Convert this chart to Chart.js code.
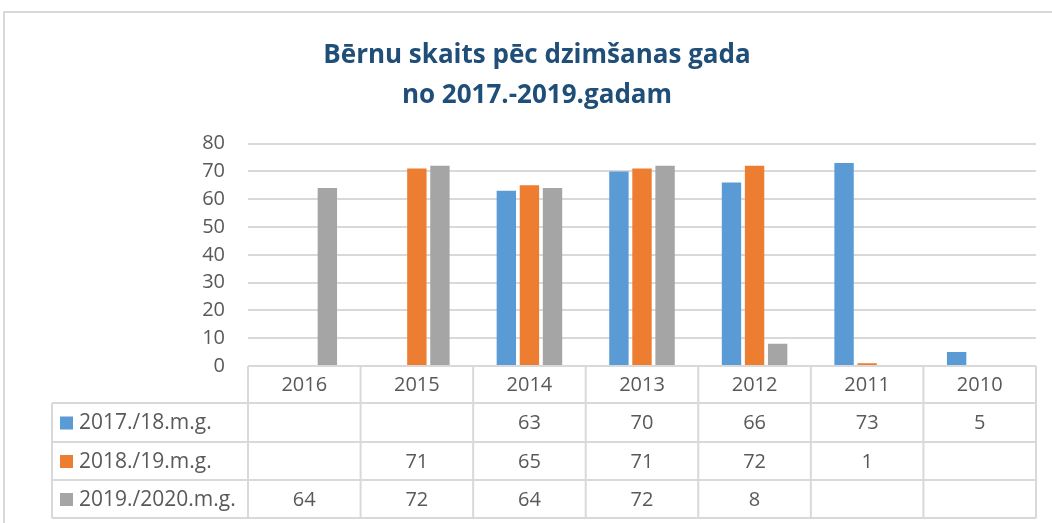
<!DOCTYPE html>
<html>
<head>
<meta charset="utf-8">
<script src="https://cdn.jsdelivr.net/npm/chart.js@4.4.1/dist/chart.umd.min.js"></script>
<style>
  html, body { margin: 0; padding: 0; background: #fff; }
  #wrap { width: 1052px; height: 523px; position: relative; }
</style>
</head>
<body>
<div id="wrap"><canvas id="chart"></canvas></div>
<script>
// dati
const years = ['2016', '2015', '2014', '2013', '2012', '2011', '2010'];
const seriesNames = ['2017./18.m.g.', '2018./19.m.g.', '2019./2020.m.g.'];
const s1718 = [null, null, 63, 70, 66, 73, 5];
const s1819 = [null, 71, 65, 71, 72, 1, null];
const s1920 = [64, 72, 64, 72, 8, null, null];
const titleLines = ['Bērnu skaits pēc dzimšanas gada', 'no 2017.-2019.gadam'];

const colors = ['#5B9BD5', '#ED7D31', '#A5A5A5'];
const gridColor = '#D9D9D9';
const textColor = '#595959';
const fontFamily = "'Open Sans', 'Noto Sans', sans-serif";

// rāmis + datu tabula zem diagrammas
const tablePlugin = {
  id: 'dataTable',
  beforeDraw(chart) {
    const ctx = chart.ctx;
    ctx.save();
    ctx.strokeStyle = gridColor;
    ctx.lineWidth = 2;
    ctx.beginPath();
    ctx.moveTo(4, 523);
    ctx.lineTo(4, 12);
    ctx.lineTo(1052, 12);
    ctx.stroke();
    ctx.restore();
  },
  afterDraw(chart) {
    const ctx = chart.ctx;
    const area = chart.chartArea;
    const xs = chart.scales.x;
    const n = years.length;
    const colW = (area.right - area.left) / n;
    const rowTops = [area.bottom, 403, 442, 480, 518];
    const labelLeft = 52;
    const rows = [s1718, s1819, s1920];

    ctx.save();
    ctx.strokeStyle = gridColor;
    ctx.lineWidth = 2;
    ctx.beginPath();
    // horizontālās līnijas
    for (let r = 1; r < rowTops.length; r++) {
      ctx.moveTo(labelLeft, rowTops[r]);
      ctx.lineTo(area.right, rowTops[r]);
    }
    // vertikālās līnijas
    for (let i = 0; i <= n; i++) {
      const x = area.left + i * colW;
      ctx.moveTo(x, rowTops[0]);
      ctx.lineTo(x, rowTops[4]);
    }
    ctx.moveTo(labelLeft, rowTops[1]);
    ctx.lineTo(labelLeft, rowTops[4]);
    ctx.stroke();

    ctx.fillStyle = textColor;
    ctx.font = '20px ' + fontFamily;
    ctx.textAlign = 'center';
    ctx.textBaseline = 'middle';
    years.forEach((y, i) => {
      const cx = xs.getPixelForValue(i);
      ctx.fillText(y, cx, (rowTops[0] + rowTops[1]) / 2 + 1);
    });

    rows.forEach((vals, r) => {
      const cy = (rowTops[r + 1] + rowTops[r + 2]) / 2 + 1;
      ctx.font = '20px ' + fontFamily;
      vals.forEach((v, i) => {
        if (v === null) return;
        ctx.fillStyle = textColor;
        ctx.textAlign = 'center';
        ctx.fillText(String(v), xs.getPixelForValue(i), cy);
      });
      // leģenda
      ctx.fillStyle = colors[r];
      ctx.fillRect(60, cy - 7, 13, 13);
      ctx.fillStyle = textColor;
      ctx.textAlign = 'left';
      ctx.font = '21px ' + fontFamily;
      ctx.fillText(seriesNames[r], 79, cy);
    });
    ctx.restore();
  }
};

const ctx = document.getElementById('chart');
new Chart(ctx, {
  type: 'bar',
  data: {
    labels: years,
    datasets: [
      { label: seriesNames[0], data: s1718, backgroundColor: colors[0] },
      { label: seriesNames[1], data: s1819, backgroundColor: colors[1] },
      { label: seriesNames[2], data: s1920, backgroundColor: colors[2] }
    ]
  },
  options: {
    responsive: true,
    maintainAspectRatio: false,
    animation: false,
    datasets: {
      bar: { categoryPercentage: 0.615, barPercentage: 0.84 }
    },
    layout: {
      padding: { left: 38, right: 16, top: 0, bottom: 157 }
    },
    plugins: {
      legend: { display: false },
      tooltip: { enabled: false },
      title: {
        display: true,
        text: titleLines,
        color: '#1F4E79',
        font: { family: fontFamily, size: 26, weight: 'bold', lineHeight: 1.55 },
        padding: { top: 35, bottom: 28 }
      }
    },
    scales: {
      x: { display: false },
      y: {
        min: 0,
        max: 80,
        ticks: {
          stepSize: 10,
          color: textColor,
          padding: 23,
          font: { family: fontFamily, size: 20 }
        },
        grid: { color: gridColor, lineWidth: 2, drawTicks: false },
        border: { display: false },
        afterFit(scale) { scale.width = 210; }
      }
    }
  },
  plugins: [tablePlugin]
});
</script>
</body>
</html>
